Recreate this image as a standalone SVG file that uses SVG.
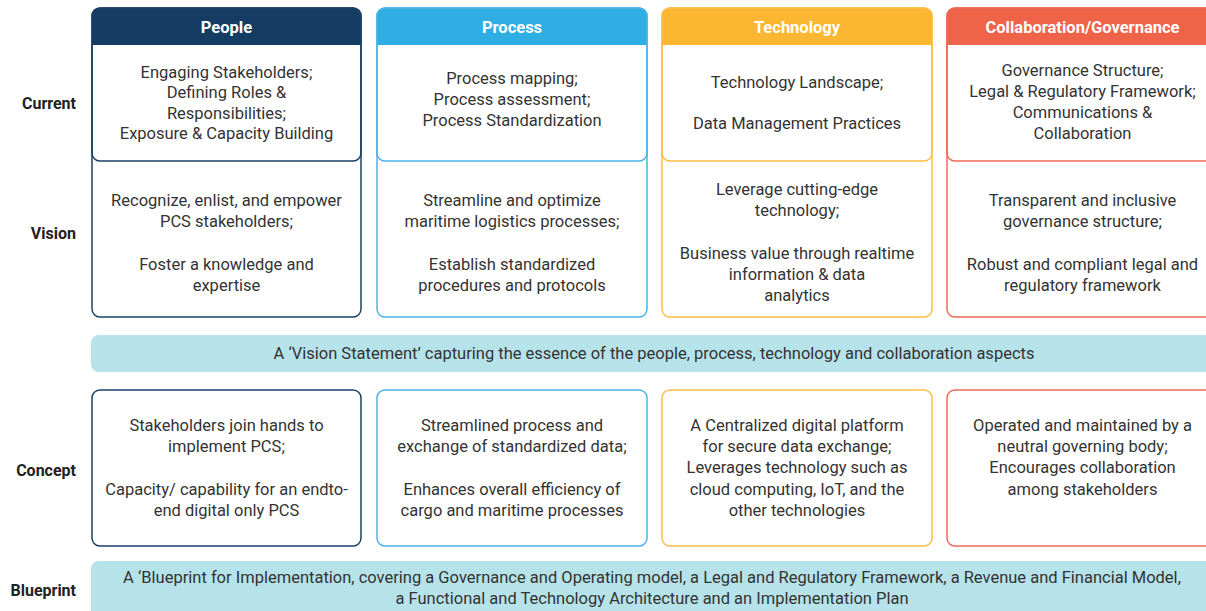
<svg xmlns="http://www.w3.org/2000/svg" width="1206" height="611" viewBox="0 0 1206 611">
<style>
  .t{font-family:Roboto,"Liberation Sans",sans-serif;font-size:16.5px;fill:#333;text-anchor:middle}
  .h{font-family:Roboto,"Liberation Sans",sans-serif;font-size:16.5px;font-weight:bold;fill:#fff;text-anchor:middle}
  .lb{font-family:Roboto,"Liberation Sans",sans-serif;font-size:16px;font-weight:bold;fill:#222;text-anchor:end}
  .bar{fill:#b6e2e9}
  .box{fill:#fff;stroke-width:1.5}
</style>
<rect width="1206" height="611" fill="#fff"/>
<g id="row-labels">
  <text class="lb" x="76" y="109">Current</text>
  <text class="lb" x="76" y="239">Vision</text>
  <text class="lb" x="76" y="476">Concept</text>
  <text class="lb" x="76" y="596">Blueprint</text>
</g>
<g id="people">
  <rect class="box" x="92" y="8" width="269" height="309" rx="8" stroke="#1b4066"/>
  <path d="M92,45 V16 a8,8 0 0 1 8,-8 H353 a8,8 0 0 1 8,8 V45 Z" fill="#153d63"/>
  <rect x="92" y="8" width="269" height="153" rx="8" fill="none" stroke="#1b4066" stroke-width="1.5"/>
  <text class="h" x="226.5" y="33">People</text>
  <text class="t" x="226.5" y="78">Engaging Stakeholders;</text>
  <text class="t" x="226.5" y="98">Defining Roles &amp;</text>
  <text class="t" x="226.5" y="119">Responsibilities;</text>
  <text class="t" x="226.5" y="139">Exposure &amp; Capacity Building</text>
  <text class="t" x="226.5" y="206">Recognize, enlist, and empower</text>
  <text class="t" x="226.5" y="227">PCS stakeholders;</text>
  <text class="t" x="226.5" y="270">Foster a knowledge and</text>
  <text class="t" x="226.5" y="291">expertise</text>
</g>
<g id="process">
  <rect class="box" x="377" y="8" width="270" height="309" rx="8" stroke="#4db3e6"/>
  <path d="M377,45 V16 a8,8 0 0 1 8,-8 H639 a8,8 0 0 1 8,8 V45 Z" fill="#2eaee3"/>
  <rect x="377" y="8" width="270" height="153" rx="8" fill="none" stroke="#4db3e6" stroke-width="1.5"/>
  <text class="h" x="512" y="33">Process</text>
  <text class="t" x="512" y="84">Process mapping;</text>
  <text class="t" x="512" y="105">Process assessment;</text>
  <text class="t" x="512" y="126">Process Standardization</text>
  <text class="t" x="512" y="206">Streamline and optimize</text>
  <text class="t" x="512" y="227">maritime logistics processes;</text>
  <text class="t" x="512" y="270">Establish standardized</text>
  <text class="t" x="512" y="291">procedures and protocols</text>
</g>
<g id="technology">
  <rect class="box" x="662" y="8" width="270" height="309" rx="8" stroke="#fbbf45"/>
  <path d="M662,45 V16 a8,8 0 0 1 8,-8 H924 a8,8 0 0 1 8,8 V45 Z" fill="#fbb632"/>
  <rect x="662" y="8" width="270" height="153" rx="8" fill="none" stroke="#fbbf45" stroke-width="1.5"/>
  <text class="h" x="797" y="33">Technology</text>
  <text class="t" x="797" y="88">Technology Landscape;</text>
  <text class="t" x="797" y="129">Data Management Practices</text>
  <text class="t" x="797" y="195">Leverage cutting-edge</text>
  <text class="t" x="797" y="216">technology;</text>
  <text class="t" x="797" y="259">Business value through realtime</text>
  <text class="t" x="797" y="280">information &amp; data</text>
  <text class="t" x="797" y="301">analytics</text>
</g>
<g id="collaboration">
  <rect class="box" x="947" y="8" width="271" height="309" rx="8" stroke="#ef6b57"/>
  <path d="M947,45 V16 a8,8 0 0 1 8,-8 H1210 a8,8 0 0 1 8,8 V45 Z" fill="#ef6448"/>
  <rect x="947" y="8" width="271" height="153" rx="8" fill="none" stroke="#ef6b57" stroke-width="1.5"/>
  <text class="h" x="1082.5" y="33">Collaboration/Governance</text>
  <text class="t" x="1082.5" y="76">Governance Structure;</text>
  <text class="t" x="1082.5" y="97">Legal &amp; Regulatory Framework;</text>
  <text class="t" x="1082.5" y="118">Communications &amp;</text>
  <text class="t" x="1082.5" y="139">Collaboration</text>
  <text class="t" x="1082.5" y="206">Transparent and inclusive</text>
  <text class="t" x="1082.5" y="227">governance structure;</text>
  <text class="t" x="1082.5" y="270">Robust and compliant legal and</text>
  <text class="t" x="1082.5" y="291">regulatory framework</text>
</g>
<g id="vision-statement">
  <rect class="bar" x="91" y="335" width="1130" height="37" rx="8"/>
  <text class="t" x="654" y="359">A ‘Vision Statement’ capturing the essence of the people, process, technology and collaboration aspects</text>
</g>
<g id="concept-people">
  <rect class="box" x="92" y="390" width="269" height="156" rx="8" stroke="#1b4066"/>
  <text class="t" x="226.5" y="431">Stakeholders join hands to</text>
  <text class="t" x="226.5" y="452">implement PCS;</text>
  <text class="t" x="226.5" y="495">Capacity/ capability for an endto-</text>
  <text class="t" x="226.5" y="516">end digital only PCS</text>
</g>
<g id="concept-process">
  <rect class="box" x="377" y="390" width="270" height="156" rx="8" stroke="#4db3e6"/>
  <text class="t" x="512" y="431">Streamlined process and</text>
  <text class="t" x="512" y="452">exchange of standardized data;</text>
  <text class="t" x="512" y="495">Enhances overall efficiency of</text>
  <text class="t" x="512" y="516">cargo and maritime processes</text>
</g>
<g id="concept-technology">
  <rect class="box" x="662" y="390" width="270" height="156" rx="8" stroke="#fbbf45"/>
  <text class="t" x="797" y="431">A Centralized digital platform</text>
  <text class="t" x="797" y="452">for secure data exchange;</text>
  <text class="t" x="797" y="473">Leverages technology such as</text>
  <text class="t" x="797" y="495">cloud computing, IoT, and the</text>
  <text class="t" x="797" y="516">other technologies</text>
</g>
<g id="concept-collaboration">
  <rect class="box" x="947" y="390" width="271" height="156" rx="8" stroke="#ef6b57"/>
  <text class="t" x="1082.5" y="431">Operated and maintained by a</text>
  <text class="t" x="1082.5" y="452">neutral governing body;</text>
  <text class="t" x="1082.5" y="473">Encourages collaboration</text>
  <text class="t" x="1082.5" y="495">among stakeholders</text>
</g>
<g id="blueprint">
  <rect class="bar" x="91" y="561" width="1130" height="60" rx="8"/>
  <text class="t" x="652" y="583">A ‘Blueprint for Implementation, covering a Governance and Operating model, a Legal and Regulatory Framework, a Revenue and Financial Model,</text>
  <text class="t" x="652" y="604">a Functional and Technology Architecture and an Implementation Plan</text>
</g>
<g id="connectors"></g>
</svg>
